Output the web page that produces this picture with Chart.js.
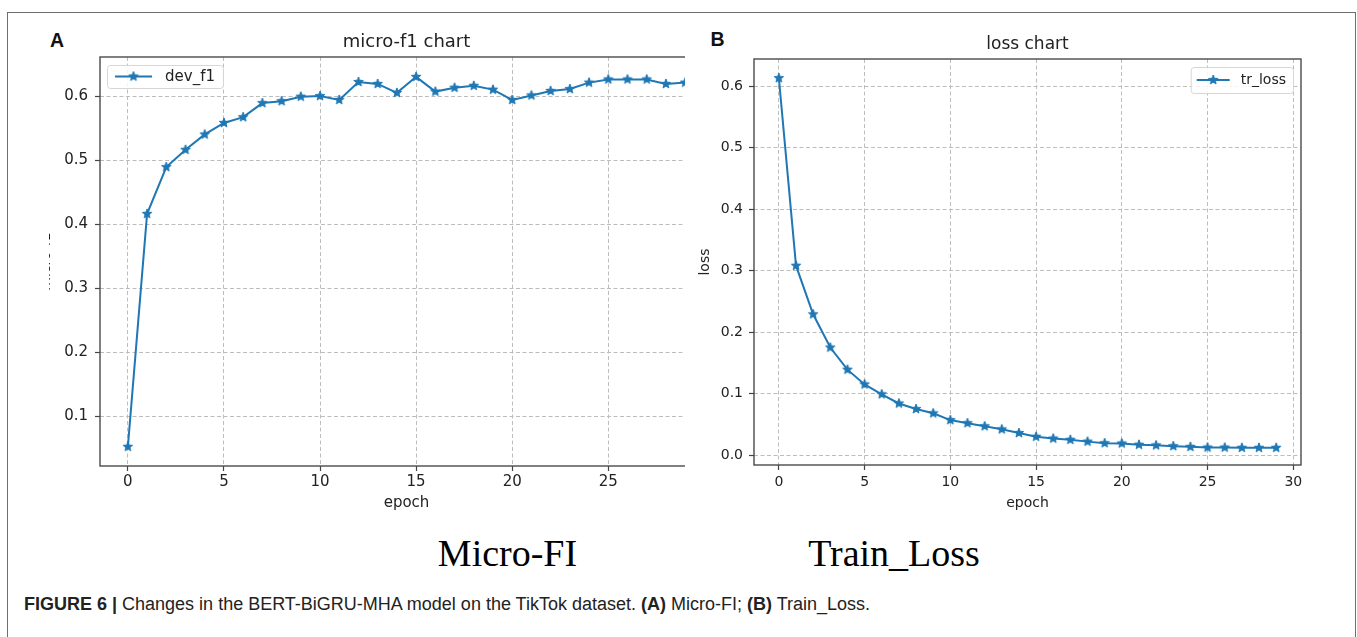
<!DOCTYPE html>
<html><head><meta charset="utf-8">
<script src="https://cdn.jsdelivr.net/npm/chart.js@4.4.1/dist/chart.umd.min.js"></script>
<style>
html,body{margin:0;padding:0;background:#fff;}
body{width:1357px;height:637px;position:relative;overflow:hidden;font-family:"Liberation Sans",Arial,sans-serif;}
#frame{position:absolute;left:7px;top:12px;width:1349px;height:640px;border:1.5px solid #6e6e6e;box-sizing:border-box;}
.panel{position:absolute;font-family:"Liberation Sans",Arial,sans-serif;font-weight:bold;font-size:19.5px;line-height:20px;color:#111;}
#clipA{position:absolute;left:49px;top:0;width:636px;height:530px;overflow:hidden;}
#cA{position:absolute;left:-19px;top:0;}
#cB{position:absolute;left:690px;top:0;}
.sub{position:absolute;width:240px;text-align:center;font-family:"Liberation Serif","Times New Roman",serif;font-size:38px;line-height:38px;color:#000;white-space:nowrap;}
#caption{position:absolute;left:24px;top:594px;font-family:"Liberation Sans",Arial,sans-serif;font-size:18px;line-height:20px;color:#222;white-space:nowrap;}
</style></head>
<body>
<div id="frame"></div>
<div class="panel" style="left:50px;top:30px;">A</div>
<div class="panel" style="left:710.5px;top:29px;">B</div>
<div id="clipA"><canvas id="cA" width="693" height="530"></canvas></div>
<canvas id="cB" width="667" height="530"></canvas>
<div class="sub" style="left:387.5px;top:534px;">Micro-FI</div>
<div class="sub" style="left:774px;top:534px;">Train_Loss</div>
<div id="caption"><b>FIGURE 6 |</b> Changes in the BERT-BiGRU-MHA model on the TikTok dataset. <b>(A)</b> Micro-FI; <b>(B)</b> Train_Loss.</div>
<script>
// ---- data ----
const epochs = [0,1,2,3,4,5,6,7,8,9,10,11,12,13,14,15,16,17,18,19,20,21,22,23,24,25,26,27,28,29];
const devF1 = [0.052,0.416,0.489,0.516,0.540,0.558,0.567,0.589,0.592,0.599,0.600,0.594,0.622,0.619,0.605,0.630,0.607,0.613,0.616,0.610,0.594,0.601,0.608,0.611,0.621,0.626,0.626,0.626,0.619,0.621];
const trLoss = [0.613,0.308,0.229,0.175,0.139,0.115,0.099,0.084,0.075,0.068,0.057,0.052,0.047,0.042,0.036,0.030,0.027,0.025,0.022,0.0195,0.019,0.017,0.016,0.0146,0.0135,0.0124,0.0124,0.012,0.012,0.012];
const xTicks = [0,5,10,15,20,25,30];
const yTicksF1 = [0.1,0.2,0.3,0.4,0.5,0.6];
const yTicksLoss = [0.0,0.1,0.2,0.3,0.4,0.5,0.6];
const seriesF1Label = 'dev_f1';
const seriesLossLabel = 'tr_loss';

const BLUE = '#1f77b4';
const FONT = '"DejaVu Sans", sans-serif';

function makeStar(r, color){
  const s = Math.ceil(r*2+2);
  const c = document.createElement('canvas');
  c.width = s; c.height = s;
  const ctx = c.getContext('2d');
  ctx.fillStyle = color; ctx.strokeStyle = color; ctx.lineWidth = 1;
  ctx.beginPath();
  for (let i=0;i<10;i++){
    const rad = (i%2) ? r*0.42 : r;
    const a = -Math.PI/2 + i*Math.PI/5;
    ctx.lineTo(s/2 + rad*Math.cos(a), s/2 + rad*Math.sin(a));
  }
  ctx.closePath(); ctx.fill(); ctx.stroke();
  return c;
}
const star = makeStar(5, BLUE);

const framePlugin = {
  id:'frame',
  afterDatasetsDraw(chart, args, o){
    const {ctx, chartArea:a} = chart;
    ctx.save();
    ctx.strokeStyle = o.color; ctx.lineWidth = o.width;
    ctx.strokeRect(a.left, a.top, a.right-a.left, a.bottom-a.top);
    ctx.restore();
  }
};

const legendPlugin = {
  id:'insideLegend',
  afterDraw(chart, args, o){
    const {ctx, chartArea:a} = chart;
    const ds = chart.data.datasets[0];
    ctx.save();
    ctx.font = o.fontSize + 'px ' + FONT;
    const tw = ctx.measureText(ds.label).width;
    const w = o.padL + o.lineLen + o.gap + tw + o.padR;
    const h = o.height;
    const x = o.align === 'left' ? a.left + o.offX : a.right - o.offX - w;
    const y = a.top + o.offY;
    ctx.beginPath();
    ctx.roundRect(x+0.5, y+0.5, w, h, 3);
    ctx.fillStyle = 'rgba(255,255,255,0.85)'; ctx.fill();
    ctx.strokeStyle = '#d6d6d6'; ctx.lineWidth = 1; ctx.stroke();
    const cy = y + h/2;
    const lx0 = x + o.padL, lx1 = lx0 + o.lineLen;
    ctx.beginPath(); ctx.moveTo(lx0, cy); ctx.lineTo(lx1, cy);
    ctx.strokeStyle = ds.borderColor; ctx.lineWidth = 2; ctx.stroke();
    ctx.drawImage(star, (lx0+lx1)/2 - star.width/2, cy - star.height/2);
    ctx.fillStyle = '#222'; ctx.textBaseline = 'middle'; ctx.textAlign = 'left';
    ctx.fillText(ds.label, lx1 + o.gap, cy + 0.5);
    ctx.restore();
  }
};

function makeChart(canvas, cfg){
  return new Chart(canvas, {
    type:'line',
    data:{datasets:[{
      label: cfg.label,
      data: epochs.map((e,i)=>({x:e, y:cfg.values[i]})),
      borderColor: BLUE, backgroundColor: BLUE, borderWidth: 2,
      pointStyle: star, pointRadius: 5, tension: 0, fill: false
    }]},
    options:{
      responsive:false, animation:false, devicePixelRatio:1,
      layout:{padding:cfg.padding},
      plugins:{
        legend:{display:false}, tooltip:{enabled:false},
        title:{display:true, text:cfg.title, fullSize:false, color:'#222',
               font:{family:FONT, size:cfg.titleSize, weight:'normal'}, padding:cfg.titlePad},
        frame:{color:'#4a4a4a', width:1.4},
        insideLegend:cfg.legend
      },
      scales:{
        x:{type:'linear', min:-1.45, max:30.45,
           afterBuildTicks:s=>{ s.ticks = xTicks.map(v=>({value:v})); },
           afterFit:s=>{ s.height = cfg.xHeight; },
           ticks:{callback:v=>String(v), color:'#222', font:{family:FONT, size:cfg.fs}, padding:cfg.xPad, maxRotation:0, autoSkip:false},
           grid:{color:'#bdbdbd', lineWidth:1, tickLength:5, tickColor:'#444', tickWidth:1.2, tickBorderDash:[]},
           border:{display:false, dash:[4,2.5]},
           title:{display:true, text:'epoch', color:'#222', font:{family:FONT, size:cfg.fs}, padding:{top:0, bottom:cfg.xTitleBottom}}
        },
        y:{type:'linear', min:cfg.yMin, max:cfg.yMax,
           afterBuildTicks:s=>{ s.ticks = cfg.yTicks.map(v=>({value:v})); },
           afterFit:s=>{ s.width = cfg.yWidth; },
           ticks:{callback:v=>Number(v).toFixed(1), color:'#222', font:{family:FONT, size:cfg.fs}, padding:cfg.yPad, autoSkip:false},
           grid:{color:'#bdbdbd', lineWidth:1, tickLength:5, tickColor:'#444', tickWidth:1.2, tickBorderDash:[]},
           border:{display:false, dash:[4,2.5]},
           title:{display:true, text:cfg.yTitle, color:'#222', font:{family:FONT, size:14}, padding:{top:cfg.yTitleTop, bottom:0}}
        }
      }
    },
    plugins:[framePlugin, legendPlugin]
  });
}

makeChart(document.getElementById('cA'), {
  label: seriesF1Label, values: devF1, title:'micro-f1 chart', titleSize:18,
  titlePad:{top:32, bottom:3.4}, padding:{left:0, right:10, top:0, bottom:0},
  xHeight:64, yWidth:70, fs:15, xPad:2, yPad:7, xTitleBottom:18,
  yMin:0.022, yMax:0.661, yTicks:yTicksF1, yTitle:'micro-f1', yTitleTop:8.1,
  legend:{align:'left', offX:7, offY:8, height:23, padL:8, lineLen:37, gap:13, padR:8, fontSize:15}
});

makeChart(document.getElementById('cB'), {
  label: seriesLossLabel, values: trLoss, title:'loss chart', titleSize:17,
  titlePad:{top:34, bottom:4.6}, padding:{left:0, right:56, top:0, bottom:0},
  xHeight:65, yWidth:64, fs:14, xPad:4, yPad:6, xTitleBottom:18.6,
  yMin:-0.016, yMax:0.644, yTicks:yTicksLoss, yTitle:'loss', yTitleTop:6.6,
  legend:{align:'right', offX:8, offY:8, height:26, padL:6, lineLen:33, gap:11, padR:7, fontSize:14}
});
</script>
</body></html>
